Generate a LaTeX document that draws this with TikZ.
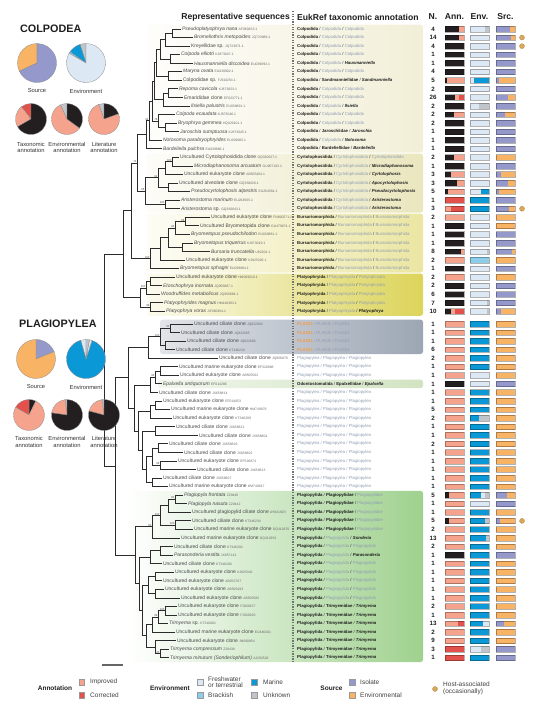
\documentclass[tikz,border=0pt]{standalone}
\usepackage{fontspec}
\setmainfont{Liberation Sans}
\usetikzlibrary{calc}
\definecolor{cblk}{HTML}{231F20}
\definecolor{cimp}{HTML}{F5A38C}
\definecolor{ccor}{HTML}{E2514C}
\definecolor{cfw}{HTML}{DCE8F4}
\definecolor{cbrk}{HTML}{8CCDEA}
\definecolor{cmar}{HTML}{0B98D6}
\definecolor{cunk}{HTML}{C0C5CC}
\definecolor{ciso}{HTML}{9498CB}
\definecolor{cenv}{HTML}{F8B365}
\definecolor{chost}{HTML}{D9A85B}
\definecolor{bcolp}{HTML}{F2EFD8}
\definecolor{bcyrt}{HTML}{EAE6BE}
\definecolor{bburs}{HTML}{EBE6A2}
\definecolor{bplat}{HTML}{DCD45A}
\definecolor{bplag}{HTML}{9CA6B4}
\definecolor{bepal}{HTML}{D2E3C2}
\definecolor{bgreen}{HTML}{9FD18E}
\definecolor{txtdark}{HTML}{1E1E1E}
\definecolor{txtlight}{HTML}{8E9CB0}
\definecolor{plorange}{HTML}{F29B45}
\definecolor{leafc}{HTML}{4A4A4A}
\definecolor{acccol}{HTML}{6A6A6A}
\definecolor{treec}{HTML}{2B2B2B}
\newcommand\Ab[1]{{\bfseries\color{txtdark}#1}}
\newcommand\Al[1]{{\color{txtlight}#1}}
\newcommand\Abi[1]{{\bfseries\itshape\color{txtdark}#1}}
\newcommand\Aor[1]{{\bfseries\color{plorange}#1}}
\newcommand\As{\ {\color{txtdark}/}\ }
\newcommand\Asl{\ {\color{txtlight}/}\ }
\newcommand\CLP{\Ab{Colpodida}\As\Al{Colpodida}\As}
\newcommand\CYR{\Ab{Cyrtolophosidida}\As\Al{Cyrtolophosidida}\As}
\newcommand\BUR{\Ab{Bursariomorphida}\As\Al{Bursariomorphida}\As\Al{Bursariomorphida}}
\newcommand\PLT{\Ab{Platyophryida}\As\Al{Platyophryida}\As}
\newcommand\PLG{\Al{Plagiopylea}\Asl\Al{Plagiopylea}\Asl\Al{Plagiopylea}}
\newcommand\PLI{\Aor{PLAGI1}\Asl\Al{PLAGI1}\Asl\Al{PLAGI1}}
\newcommand\PGP{\Ab{Plagiopylida}\As\Ab{Plagiopylidae}\As\Al{Plagiopylidae}}
\newcommand\PGA{\Ab{Plagiopylida}\As\Al{Plagiopylida}\As}
\newcommand\PGT{\Ab{Plagiopylida}\As\Ab{Trimyemidae}\As\Abi{Trimyema}}
\newcommand\accf{\fontsize{3.4}{3.4}\selectfont\color{acccol}}
\newcommand\segbar[3]{%
  \xdef\segacc{0}%
  \foreach \segc/\segf in {#3}{%
    \pgfmathsetmacro\segnew{\segacc+\segf}%
    \fill[\segc] ({#1+\segacc*19},{ya(#2)-2.8}) rectangle ({#1+\segnew*19},{ya(#2)+2.8});%
    \xdef\segacc{\segnew}%
  }%
  \draw[barline] (#1,{ya(#2)-2.8}) rectangle ({#1+19},{ya(#2)+2.8});%
}
\newcommand\rowdata[9]{%
  \node[leaf] (r#1) at (#2,{ya(#1)}) {#3\hspace{1.3pt}{\accf #4}};
  \node[annot] (tx#1) at (297,{ya(#1)}) {#5};
  \node[nnum] (nn#1) at (433,{ya(#1)}) {#6};
  \segbar{445}{#1}{#7}
  \segbar{470}{#1}{#8}
  \segbar{496}{#1}{#9}
}
\newcommand\pslice[6]{\filldraw[fill=#6, draw=black!45, line width=0.3pt] (#1,#2) -- ++(#4:#3pt) arc[start angle=#4, end angle=#5, radius=#3pt] -- cycle;}
\newcommand\edge[2]{\draw[br] (#1) |- (#2);}
\begin{document}
\begin{tikzpicture}[x=1pt,y=-1pt,
  declare function={ya(\k)=(\k<34.75)*(29+8.56*(\k-1))+(\k>34.75)*(324+8.56*(\k-35));},
  br/.style={draw=treec, line width=0.85pt},
  leaf/.style={anchor=west, inner xsep=0.9pt, inner ysep=0.3pt, font=\fontsize{5}{5}\selectfont, text=leafc},
  annot/.style={anchor=west, inner sep=0pt, font=\fontsize{4.3}{4.3}\selectfont},
  nnum/.style={font=\fontsize{6.2}{6.2}\selectfont\bfseries, text=txtdark, inner sep=0pt},
  barline/.style={draw=black, draw opacity=0.3, line width=0.45pt},
  hostdot/.style={circle, fill=chost, draw=chost!80!black, line width=0.3pt, minimum size=5pt, inner sep=0pt},
  bs/.style={font=\fontsize{2.8}{2.8}\selectfont, text=black!70, inner sep=0.3pt, anchor=south east},
  hdr/.style={font=\fontsize{8.6}{9}\selectfont\bfseries, text=txtdark, inner sep=0pt},
  ttl/.style={font=\fontsize{10.8}{11}\selectfont\bfseries, text=txtdark, anchor=west, inner sep=0pt},
  pielab/.style={font=\fontsize{5.8}{6.4}\selectfont, text=black!80, align=center, inner sep=0pt},
  leg/.style={font=\fontsize{6.5}{7}\selectfont, text=black!75, anchor=west, inner sep=0pt, align=left},
  legb/.style={font=\fontsize{6.5}{7}\selectfont\bfseries, text=txtdark, inner sep=0pt},
  lsq/.style={draw=black!40, line width=0.4pt, minimum size=5.5pt, inner sep=0pt},
  dashline/.style={draw=black!55, line width=1.2pt, dash pattern=on 1.3pt off 1.3pt}]
\useasboundingbox (0,0) rectangle (537,714);
% ---------- bands ----------
\shade[left color=bcolp!10!white, right color=bcolp, rounded corners=2.5pt] (147,24.7) rectangle (423,152.6);
\shade[left color=bcyrt!10!white, right color=bcyrt, rounded corners=2.5pt] (147,153.6) rectangle (423,212.6);
\shade[left color=bburs!10!white, right color=bburs, rounded corners=2.5pt] (147,213.6) rectangle (423,272.5);
\shade[left color=bplat!10!white, right color=bplat, rounded corners=2.5pt] (147,273.5) rectangle (423,315.8);
\shade[left color=bplag!30!white, right color=bplag, rounded corners=2.5pt] (160,319.7) rectangle (423,354.0);
\shade[left color=bepal!30!white, right color=bepal, rounded corners=2.5pt] (158,379.6) rectangle (423,388.2);
\shade[left color=white, right color=bgreen, rounded corners=2.5pt] (128,490.9) rectangle (423,662.1);
% ---------- headers ----------
\node[hdr, anchor=east] (h-rep) at (290,17) {Representative sequences};
\node[hdr, anchor=west] (h-euk) at (297,17) {EukRef taxonomic annotation};
\node[hdr] (h-n) at (433,17) {N.};
\node[hdr] (h-ann) at (454.5,17) {Ann.};
\node[hdr] (h-env) at (479.5,17) {Env.};
\node[hdr] (h-src) at (505.5,17) {Src.};
\coordinate (dl1) at (293,11);
\coordinate (dl2) at (293,663);
\draw[dashline] (dl1) -- (dl2);
% ---------- rows ----------
\rowdata{1}{181}{\textit{Pseudoplatyophrya nana}}{AF060453.1}{\CLP\Al{Colpodida}}{4}{cblk/0.75,cimp/0.25}{cfw/0.8,cunk/0.2}{ciso/0.75,cenv/0.25}
\rowdata{2}{193}{\textit{Bromeliothrix metopoides}}{JQ723988.1}{\CLP\Al{Colpodida}}{14}{cblk/0.75,cimp/0.25}{cfw/1}{ciso/0.8,cenv/0.2}
\rowdata{3}{190}{Kreyellidae sp.}{JQ723971.1}{\CLP\Al{Colpodida}}{4}{cblk/1}{cfw/1}{ciso/1}
\rowdata{4}{180}{\textit{Colpoda elliotti}}{KJ873047.1}{\CLP\Al{Colpodida}}{1}{cblk/1}{cfw/1}{ciso/1}
\rowdata{5}{193}{\textit{Hausmanniella discoidea}}{EU039893.1}{\CLP\Abi{Hausmanniella}}{1}{cblk/1}{cfw/1}{ciso/1}
\rowdata{6}{182}{\textit{Maryna ovata}}{EU039902.1}{\CLP\Al{Colpodida}}{4}{cblk/1}{cfw/1}{ciso/1}
\rowdata{7}{182}{Colpodidae sp.}{FJ610254.1}{\Ab{Colpodida}\As\Ab{Sandmanniellidae}\As\Abi{Sandmanniella}}{5}{cblk/0.12,cimp/0.88}{cfw/0.2,cmar/0.8}{ciso/0.15,cenv/0.85}
\rowdata{8}{178}{\textit{Repoma cavicola}}{KJ873053.1}{\CLP\Al{Colpodida}}{2}{cblk/1}{cfw/1}{ciso/1}
\rowdata{9}{183}{Emarididae clone}{EF023771.1}{\CLP\Al{Colpodida}}{26}{cblk/0.52,cimp/0.2,ccor/0.28}{cfw/1}{ciso/0.65,cenv/0.35}
\rowdata{10}{190}{\textit{Ilsiella palustris}}{EU039891.1}{\CLP\Abi{Ilsiella}}{2}{cblk/1}{cfw/0.45,cunk/0.55}{ciso/1}
\rowdata{11}{175}{\textit{Colpoda ecaudata}}{KJ873046.1}{\CLP\Al{Colpodida}}{2}{cblk/0.45,cimp/0.55}{cfw/1}{ciso/0.45,cenv/0.55}
\rowdata{12}{177}{\textit{Bryophrya gemmea}}{HQ020101.1}{\CLP\Al{Colpodida}}{2}{cblk/1}{cfw/1}{ciso/1}
\rowdata{13}{179}{\textit{Jaroschia sumptuosa}}{KJ873045.1}{\Ab{Colpodida}\As\Ab{Jaroschiidae}\As\Abi{Jaroschia}}{1}{cblk/1}{cfw/1}{ciso/1}
\rowdata{14}{162}{\textit{Notoxoma parabryophryides}}{EU039905.1}{\CLP\Abi{Notoxoma}}{1}{cblk/1}{cfw/1}{ciso/1}
\rowdata{15}{162}{\textit{Bardeliella pulchra}}{EU039886.1}{\Ab{Colpodida}\As\Ab{Bardeliellidae}\As\Abi{Bardeliella}}{1}{cblk/1}{cfw/1}{ciso/1}
\rowdata{16}{179}{Uncultured Cyrtolophosidida clone}{GQ330627.1}{\CYR\Al{Cyrtolophosidida}}{2}{cblk/0.45,cimp/0.55}{cfw/1}{cenv/1}
\rowdata{17}{193}{\textit{Microdiaphanosoma arcuatum}}{GU907103.1}{\CYR\Abi{Microdiaphanosoma}}{1}{cblk/1}{cfw/1}{ciso/1}
\rowdata{18}{183}{Uncultured eukaryote clone}{AB505404.1}{\CYR\Abi{Cyrtolophosis}}{3}{cblk/0.3,cimp/0.7}{cfw/1}{ciso/0.25,cenv/0.75}
\rowdata{19}{178}{Uncultured alveolate clone}{GQ330626.1}{\CYR\Abi{Apocyrtolophosis}}{3}{cblk/0.65,cimp/0.35}{cfw/1}{ciso/0.65,cenv/0.35}
\rowdata{20}{190}{\textit{Pseudocyrtolophosis alpestris}}{EU264564.1}{\CYR\Abi{Pseudocyrtolophosis}}{5}{cblk/0.15,cimp/0.85}{cfw/0.6,cmar/0.4}{ciso/0.15,cenv/0.85}
\rowdata{21}{180}{\textit{Aristerostoma marinum}}{EU264565.1}{\CYR\Abi{Aristerostoma}}{1}{ccor/1}{cmar/1}{ciso/1}
\rowdata{22}{180}{\textit{Aristerostoma} sp.}{GQ330643.1}{\CYR\Abi{Aristerostoma}}{3}{cimp/0.3,ccor/0.7}{cmar/1}{ciso/0.7,cenv/0.3}
\rowdata{23}{210}{Uncultured eukaryote clone}{FN690571.1}{\BUR}{2}{cimp/1}{cfw/1}{cenv/1}
\rowdata{24}{199}{Uncultured Bryometopida clone}{GU479874.1}{\BUR}{1}{cblk/1}{cfw/1}{cenv/1}
\rowdata{25}{190}{\textit{Bryometopus pseudochilodon}}{EU039881.1}{\BUR}{1}{cblk/1}{cfw/1}{ciso/1}
\rowdata{26}{193}{\textit{Bryometopus triquetrus}}{KJ873049.1}{\BUR}{1}{cblk/1}{cfw/1}{ciso/1}
\rowdata{27}{210}{\textit{Bursaria truncatella}}{U82204.1}{\BUR}{8}{cblk/0.85,cimp/0.15}{cfw/0.9,cunk/0.1}{ciso/0.85,cenv/0.15}
\rowdata{28}{185}{Uncultured eukaryote clone}{KJ925326.1}{\BUR}{2}{cimp/1}{cbrk/1}{cenv/1}
\rowdata{29}{179}{\textit{Bryometopus sphagni}}{EU039884.1}{\BUR}{1}{cblk/1}{cfw/1}{ciso/1}
\rowdata{30}{175}{Uncultured eukaryote clone}{HM009016.1}{\PLT\Al{Platyophryida}}{2}{cimp/1}{cfw/1}{cenv/1}
\rowdata{31}{162}{\textit{Etoschophrya inornata}}{JQ956887.1}{\PLT\Al{Platyophryida}}{2}{cblk/1}{cfw/1}{ciso/1}
\rowdata{32}{160}{\textit{Woodruffides metabolicus}}{JQ956884.1}{\PLT\Al{Platyophryida}}{6}{cblk/1}{cfw/1}{ciso/1}
\rowdata{33}{163}{\textit{Platyophryides magnus}}{HM140393.1}{\PLT\Al{Platyophryida}}{7}{cblk/1}{cfw/0.9,cunk/0.1}{ciso/1}
\rowdata{34}{165}{\textit{Platyophrya vorax}}{AF060454.1}{\PLT\Abi{Platyophrya}}{10}{cblk/0.3,cimp/0.2,ccor/0.5}{cfw/0.9,cunk/0.1}{ciso/0.25,cenv/0.75}
\rowdata{35}{193}{Uncultured ciliate clone}{JQ922663}{\PLI}{1}{cimp/1}{cmar/1}{cenv/1}
\rowdata{36}{180}{Uncultured ciliate clone}{JQ922665}{\PLI}{1}{cimp/1}{cmar/1}{cenv/1}
\rowdata{37}{186}{Uncultured ciliate clone}{JQ922666}{\PLI}{1}{cimp/1}{cmar/1}{cenv/1}
\rowdata{38}{175}{Uncultured ciliate clone}{KT346210}{\PLI}{6}{cimp/1}{cmar/1}{cenv/1}
\rowdata{39}{218}{Uncultured ciliate clone}{JQ956870}{\PLG}{2}{cimp/1}{cmar/1}{cenv/1}
\rowdata{40}{178}{Uncultured marine eukaryote clone}{EF526888}{\PLG}{1}{cimp/1}{cmar/1}{cenv/1}
\rowdata{41}{179}{Uncultured eukaryote clone}{AB505502}{\PLG}{1}{cimp/1}{cfw/1}{cenv/1}
\rowdata{42}{162}{\textit{Epalxella antiquorum}}{EF014286}{\Ab{Odontostomatida}\As\Ab{Epalxellidae}\As\Abi{Epalxella}}{1}{cblk/1}{cfw/1}{ciso/1}
\rowdata{43}{158}{Uncultured ciliate clone}{JX658814}{\PLG}{1}{cimp/1}{cmar/1}{cenv/1}
\rowdata{44}{162}{Uncultured eukaryote clone}{EF014053}{\PLG}{1}{cimp/1}{cmar/1}{cenv/1}
\rowdata{45}{170}{Uncultured marine eukaryote clone}{HM749979}{\PLG}{5}{cimp/1}{cmar/1}{cenv/1}
\rowdata{46}{172}{Uncultured eukaryote clone}{KT346209}{\PLG}{2}{cimp/1}{cmar/0.45,cunk/0.55}{cenv/1}
\rowdata{47}{175}{Uncultured ciliate clone}{JX658821}{\PLG}{1}{cimp/1}{cmar/1}{cenv/1}
\rowdata{48}{198}{Uncultured ciliate clone}{JX658804}{\PLG}{1}{cimp/1}{cmar/1}{cenv/1}
\rowdata{49}{168}{Uncultured ciliate clone}{JX658826}{\PLG}{2}{cimp/1}{cmar/1}{cenv/1}
\rowdata{50}{183}{Uncultured ciliate clone}{JX658802}{\PLG}{1}{cimp/1}{cmar/1}{cenv/1}
\rowdata{51}{177}{Uncultured eukaryote clone}{EF526874}{\PLG}{1}{cimp/1}{cmar/1}{cenv/1}
\rowdata{52}{196}{Uncultured ciliate clone}{JX658813}{\PLG}{1}{cimp/1}{cmar/1}{cenv/1}
\rowdata{53}{162}{Uncultured ciliate clone}{JX658807}{\PLG}{1}{cimp/1}{cmar/1}{cenv/1}
\rowdata{54}{168}{Uncultured marine eukaryote clone}{HM749917}{\PLG}{1}{cimp/1}{cmar/1}{cenv/1}
\rowdata{55}{183}{\textit{Plagiopyla frontata}}{Z29440}{\PGP}{5}{cblk/0.2,cimp/0.8}{cmar/0.6,cfw/0.2,cunk/0.2}{ciso/0.6,cenv/0.4}
\rowdata{56}{187}{\textit{Plagiopyla nasuta}}{Z29442}{\PGP}{1}{cimp/1}{cfw/1}{ciso/1}
\rowdata{57}{191}{Uncultured plagiopylid ciliate clone}{AY821923}{\PGP}{1}{cimp/1}{cmar/1}{cenv/1}
\rowdata{58}{191}{Uncultured ciliate clone}{KT346234}{\PGP}{5}{cblk/0.2,cimp/0.8}{cmar/0.8,cunk/0.2}{ciso/0.2,cenv/0.8}
\rowdata{59}{193}{Uncultured marine eukaryote clone}{DQ310370}{\PGP}{2}{cimp/1}{cmar/1}{cenv/1}
\rowdata{60}{180}{Uncultured marine eukaryote clone}{DQ310253}{\PGA\Abi{Sonderia}}{13}{cimp/1}{cmar/0.85,cunk/0.15}{cenv/1}
\rowdata{61}{173}{Uncultured ciliate clone}{KT346204}{\PGA\Al{Plagiopylida}}{2}{cimp/1}{cmar/1}{cenv/1}
\rowdata{62}{173}{\textit{Parasonderia vestita}}{JX857141}{\PGA\Abi{Parasonderia}}{1}{cblk/1}{cmar/1}{ciso/1}
\rowdata{63}{162}{Uncultured ciliate clone}{KT346200}{\PGA\Al{Plagiopylida}}{1}{cimp/1}{cmar/1}{cenv/1}
\rowdata{64}{174}{Uncultured eukaryote clone}{KJ925342}{\PGA\Al{Plagiopylida}}{1}{cimp/1}{cmar/1}{cenv/1}
\rowdata{65}{162}{Uncultured eukaryote clone}{AB252767}{\PGA\Al{Plagiopylida}}{1}{cimp/1}{cmar/1}{cenv/1}
\rowdata{66}{164}{Uncultured eukaryote clone}{AB505493}{\PGA\Al{Plagiopylida}}{1}{cimp/1}{cmar/1}{cenv/1}
\rowdata{67}{180}{Uncultured eukaryote clone}{AB505505}{\PGA\Al{Plagiopylida}}{1}{cimp/1}{cmar/1}{cenv/1}
\rowdata{68}{177}{Uncultured eukaryote clone}{FJ009157}{\PGT}{2}{cimp/1}{cmar/1}{cenv/1}
\rowdata{69}{177}{Uncultured eukaryote clone}{FJ009160}{\PGT}{1}{cimp/1}{cmar/1}{cenv/1}
\rowdata{70}{168}{\textit{Trimyema} sp.}{KT310081}{\PGT}{13}{cimp/0.7,ccor/0.3}{cmar/0.7,cfw/0.3}{ciso/0.4,cenv/0.6}
\rowdata{71}{175}{Uncultured marine eukaryote clone}{EU446401}{\PGT}{2}{cimp/1}{cmar/1}{cenv/1}
\rowdata{72}{176}{Uncultured eukaryote clone}{JN090854}{\PGT}{9}{cimp/1}{cmar/1}{cenv/1}
\rowdata{73}{169}{\textit{Trimyema compressum}}{Z29438}{\PGT}{3}{ccor/1}{cfw/0.6,cunk/0.4}{ciso/1}
\rowdata{74}{169}{\textit{Trimyema minutum (Sonderiophilum)}}{AJ292526}{\PGT}{1}{ccor/1}{cmar/1}{ciso/1}
% host dots
\node[hostdot] (hd1) at (522,{ya(2)}) {};
\node[hostdot] (hd2) at (522,{ya(3)}) {};
\node[hostdot] (hd3) at (522,{ya(22)}) {};
\node[hostdot] (hd4) at (522,{ya(58)}) {};
% ---------- tree: internal nodes ----------
\coordinate (a1) at (172,{ya(1.5)});
\coordinate (a2) at (165,{ya(2.25)});
\coordinate (a3) at (170,{ya(4.5)});
\coordinate (a4) at (160,{ya(3.375)});
\coordinate (a5) at (168,{ya(6.5)});
\coordinate (a6) at (156,{ya(4.9375)});
\coordinate (a7) at (168,{ya(8.5)});
\coordinate (a8) at (163,{ya(9.25)});
\coordinate (a9) at (154,{ya(7.09375)});
\coordinate (a10) at (165,{ya(12.5)});
\coordinate (a11) at (158,{ya(11.75)});
\coordinate (a12) at (152,{ya(9.421875)});
\coordinate (a13) at (149,{ya(11.7109)});
\coordinate (a14) at (146,{ya(13.3555)});
\coordinate (b1) at (172,{ya(16.5)});
\coordinate (b2) at (165,{ya(17.25)});
\coordinate (b3) at (168,{ya(19.5)});
\coordinate (b4) at (158,{ya(18.375)});
\coordinate (b5) at (165,{ya(21.5)});
\coordinate (b6) at (145,{ya(19.9375)});
\coordinate (c1) at (185,{ya(23.5)});
\coordinate (c2) at (175,{ya(24.25)});
\coordinate (c3) at (182,{ya(26.5)});
\coordinate (c4) at (168,{ya(25.375)});
\coordinate (c5) at (160,{ya(26.6875)});
\coordinate (c6) at (150,{ya(27.84375)});
\coordinate (d1) at (150,{ya(30.5)});
\coordinate (d2) at (146,{ya(31.25)});
\coordinate (d3) at (150,{ya(33.5)});
\coordinate (d4) at (140,{ya(32.375)});
\coordinate (e1) at (137,{ya(16.6465)});
\coordinate (e2) at (131,{ya(22.245)});
\coordinate (e3) at (123,{ya(27.31)});
\coordinate (f1) at (170,{ya(35.5)});
\coordinate (f2) at (165,{ya(37.5)});
\coordinate (f3) at (160,{ya(36.5)});
\coordinate (f4) at (148,{ya(37.75)});
\coordinate (g1) at (160,{ya(40.5)});
\coordinate (g2) at (155,{ya(41.25)});
\coordinate (g3) at (150,{ya(42.125)});
\coordinate (g4) at (155,{ya(44.5)});
\coordinate (g5) at (150,{ya(45.25)});
\coordinate (g6) at (155,{ya(47.5)});
\coordinate (g7) at (158,{ya(49.5)});
\coordinate (g8) at (160,{ya(51.5)});
\coordinate (g9) at (152,{ya(50.5)});
\coordinate (g10) at (152,{ya(53.5)});
\coordinate (g11) at (146,{ya(52)});
\coordinate (g12) at (142,{ya(49.75)});
\coordinate (g13) at (138,{ya(47.5)});
\coordinate (g14) at (134,{ya(44.8125)});
\coordinate (g15) at (128,{ya(41.28)});
\coordinate (h1) at (175,{ya(55.5)});
\coordinate (h2) at (168,{ya(56.25)});
\coordinate (h3) at (175,{ya(58.5)});
\coordinate (h4) at (160,{ya(57.375)});
\coordinate (h5) at (152,{ya(58.6875)});
\coordinate (h6) at (160,{ya(61.5)});
\coordinate (h7) at (150,{ya(62.25)});
\coordinate (h8) at (155,{ya(64.5)});
\coordinate (h9) at (155,{ya(66.5)});
\coordinate (h10) at (148,{ya(65.5)});
\coordinate (h11) at (165,{ya(68.5)});
\coordinate (h12) at (158,{ya(69.25)});
\coordinate (h13) at (152,{ya(70.125)});
\coordinate (h14) at (160,{ya(73.5)});
\coordinate (h15) at (155,{ya(72.75)});
\coordinate (h16) at (146,{ya(71.4375)});
\coordinate (h17) at (142,{ya(68.47)});
\coordinate (h18) at (139,{ya(65.36)});
\coordinate (h19) at (135,{ya(62.02)});
\coordinate (p) at (115,{ya(51.65)});
\coordinate (rootx) at (104,0);
\path (e3) -- (p) coordinate[pos=0.5] (rootm);
\coordinate (root) at (rootm -| rootx);
% ---------- tree: edges ----------
\edge{a1}{r1.west}\edge{a1}{r2.west}
\edge{a2}{a1}\edge{a2}{r3.west}
\edge{a3}{r4.west}\edge{a3}{r5.west}
\edge{a4}{a2}\edge{a4}{a3}
\edge{a5}{r6.west}\edge{a5}{r7.west}
\edge{a6}{a4}\edge{a6}{a5}
\edge{a7}{r8.west}\edge{a7}{r9.west}
\edge{a8}{a7}\edge{a8}{r10.west}
\edge{a9}{a6}\edge{a9}{a8}
\edge{a10}{r12.west}\edge{a10}{r13.west}
\edge{a11}{r11.west}\edge{a11}{a10}
\edge{a12}{a9}\edge{a12}{a11}
\edge{a13}{a12}\edge{a13}{r14.west}
\edge{a14}{a13}\edge{a14}{r15.west}
\edge{b1}{r16.west}\edge{b1}{r17.west}
\edge{b2}{b1}\edge{b2}{r18.west}
\edge{b3}{r19.west}\edge{b3}{r20.west}
\edge{b4}{b2}\edge{b4}{b3}
\edge{b5}{r21.west}\edge{b5}{r22.west}
\edge{b6}{b4}\edge{b6}{b5}
\edge{c1}{r23.west}\edge{c1}{r24.west}
\edge{c2}{c1}\edge{c2}{r25.west}
\edge{c3}{r26.west}\edge{c3}{r27.west}
\edge{c4}{c2}\edge{c4}{c3}
\edge{c5}{c4}\edge{c5}{r28.west}
\edge{c6}{c5}\edge{c6}{r29.west}
\edge{d1}{r30.west}\edge{d1}{r31.west}
\edge{d2}{d1}\edge{d2}{r32.west}
\edge{d3}{r33.west}\edge{d3}{r34.west}
\edge{d4}{d2}\edge{d4}{d3}
\edge{e1}{a14}\edge{e1}{b6}
\edge{e2}{e1}\edge{e2}{c6}
\edge{e3}{e2}\edge{e3}{d4}
\edge{f1}{r35.west}\edge{f1}{r36.west}
\edge{f2}{r37.west}\edge{f2}{r38.west}
\edge{f3}{f1}\edge{f3}{f2}
\edge{f4}{f3}\edge{f4}{r39.west}
\edge{g1}{r40.west}\edge{g1}{r41.west}
\edge{g2}{g1}\edge{g2}{r42.west}
\edge{g3}{g2}\edge{g3}{r43.west}
\edge{g4}{r44.west}\edge{g4}{r45.west}
\edge{g5}{g4}\edge{g5}{r46.west}
\edge{g6}{r47.west}\edge{g6}{r48.west}
\edge{g7}{r49.west}\edge{g7}{r50.west}
\edge{g8}{r51.west}\edge{g8}{r52.west}
\edge{g9}{g7}\edge{g9}{g8}
\edge{g10}{r53.west}\edge{g10}{r54.west}
\edge{g11}{g9}\edge{g11}{g10}
\edge{g12}{g6}\edge{g12}{g11}
\edge{g13}{g5}\edge{g13}{g12}
\edge{g14}{g3}\edge{g14}{g13}
\edge{g15}{f4}\edge{g15}{g14}
\edge{h1}{r55.west}\edge{h1}{r56.west}
\edge{h2}{h1}\edge{h2}{r57.west}
\edge{h3}{r58.west}\edge{h3}{r59.west}
\edge{h4}{h2}\edge{h4}{h3}
\edge{h5}{h4}\edge{h5}{r60.west}
\edge{h6}{r61.west}\edge{h6}{r62.west}
\edge{h7}{h6}\edge{h7}{r63.west}
\edge{h8}{r64.west}\edge{h8}{r65.west}
\edge{h9}{r66.west}\edge{h9}{r67.west}
\edge{h10}{h8}\edge{h10}{h9}
\edge{h11}{r68.west}\edge{h11}{r69.west}
\edge{h12}{h11}\edge{h12}{r70.west}
\edge{h13}{h12}\edge{h13}{r71.west}
\edge{h14}{r73.west}\edge{h14}{r74.west}
\edge{h15}{r72.west}\edge{h15}{h14}
\edge{h16}{h13}\edge{h16}{h15}
\edge{h17}{h10}\edge{h17}{h16}
\edge{h18}{h7}\edge{h18}{h17}
\edge{h19}{h5}\edge{h19}{h18}
\edge{p}{g15}\edge{p}{h19}
\edge{root}{e3}\edge{root}{p}
% bootstrap values
\node[bs] (bs1) at (a13) {94};
\node[bs] (bs2) at (a11) {78};
\node[bs] (bs3) at (b1) {100};
\node[bs] (bs4) at (b4) {92};
\node[bs] (bs5) at (b5) {100};
\node[bs] (bs6) at (b6) {86};
\node[bs] (bs7) at (e1) {74};
\node[bs] (bs8) at (c1) {66};
\node[bs] (bs9) at (c2) {84};
\node[bs] (bs10) at (c6) {100};
\node[bs] (bs11) at (d2) {100};
\node[bs] (bs12) at (d3) {99};
\node[bs] (bs13) at (f1) {90};
\node[bs] (bs14) at (f3) {100};
\node[bs] (bs15) at (g2) {95};
\node[bs] (bs16) at (g8) {98};
\node[bs] (bs17) at (h1) {81};
\node[bs] (bs18) at (h3) {100};
\node[bs] (bs19) at (h4) {100};
\node[bs] (bs20) at (h5) {82};
\node[bs] (bs21) at (h11) {100};
\node[bs] (bs22) at (h12) {99};
\node[bs] (bs23) at (h14) {100};
% scale bar
\coordinate (sb1) at (102,665);
\coordinate (sb2) at (123,665);
\draw[line width=1.5pt, black!60] (sb1) -- (sb2);
% ---------- left panel: COLPODEA ----------
\node[ttl] (tcol) at (20,29) {COLPODEA};
\pslice{37}{63}{19.5}{90}{205}{cenv}
\pslice{37}{63}{19.5}{205}{450}{ciso}
\pslice{86}{63}{19.5}{90}{108}{cunk}
\pslice{86}{63}{19.5}{108}{145}{cmar}
\pslice{86}{63}{19.5}{145}{150}{cbrk}
\pslice{86}{63}{19.5}{150}{450}{cfw}
\pslice{31}{119}{15.5}{90}{128}{ccor}
\pslice{31}{119}{15.5}{128}{210}{cimp}
\pslice{31}{119}{15.5}{210}{450}{cblk}
\pslice{67}{119}{15.5}{90}{115}{cunk}
\pslice{67}{119}{15.5}{115}{324}{cimp}
\pslice{67}{119}{15.5}{324}{450}{cblk}
\pslice{104}{119}{15.5}{90}{110}{cunk}
\pslice{104}{119}{15.5}{110}{380}{cimp}
\pslice{104}{119}{15.5}{380}{450}{cblk}
\node[pielab] (pcs) at (37,91) {Source};
\node[pielab] (pce) at (86,91) {Environment};
\node[pielab] (pct) at (31,147.5) {Taxonomic\\annotation};
\node[pielab] (pcv) at (67,147.5) {Environmental\\annotation};
\node[pielab] (pcl) at (104,147.5) {Literature\\annotation};
% ---------- left panel: PLAGIOPYLEA ----------
\node[ttl] (tpla) at (19,324) {PLAGIOPYLEA};
\pslice{36}{359}{19.5}{22}{90}{ciso}
\pslice{36}{359}{19.5}{90}{382}{cenv}
\pslice{86}{359}{19.5}{90}{106}{cfw}
\pslice{86}{359}{19.5}{106}{432}{cmar}
\pslice{86}{359}{19.5}{72}{80}{cfw}
\pslice{86}{359}{19.5}{80}{90}{cunk}
\pslice{29}{415}{15.5}{64}{90}{cblk}
\pslice{29}{415}{15.5}{90}{150}{ccor}
\pslice{29}{415}{15.5}{150}{424}{cimp}
\pslice{67}{415}{15.5}{90}{97}{cunk}
\pslice{67}{415}{15.5}{97}{172}{cimp}
\pslice{67}{415}{15.5}{172}{450}{cblk}
\pslice{104}{415}{15.5}{90}{98}{cunk}
\pslice{104}{415}{15.5}{98}{165}{cimp}
\pslice{104}{415}{15.5}{165}{450}{cblk}
\node[pielab] (pps) at (36,387) {Source};
\node[pielab] (ppe) at (86,387) {Environment};
\node[pielab] (ppt) at (29,442) {Taxonomic\\annotation};
\node[pielab] (ppv) at (67,442) {Environmental\\annotation};
\node[pielab] (ppl) at (104,442) {Literature\\annotation};
% ---------- legend ----------
\node[legb] (lgA) at (55,688.5) {Annotation};
\node[lsq, fill=cimp] (sq1) at (81.5,682) {};
\node[lsq, fill=ccor] (sq2) at (81.5,695) {};
\node[leg] (lt1) at (90,682) {Improved};
\node[leg] (lt2) at (90,695) {Corrected};
\node[legb] (lgE) at (170,688.5) {Environment};
\node[lsq, fill=cfw] (sq3) at (200,682) {};
\node[lsq, fill=cbrk] (sq4) at (200,695) {};
\node[leg, font=\fontsize{6.5}{6.6}\selectfont] (lt3) at (208,682) {Freshwater\\or terrestrial};
\node[leg] (lt4) at (208,695) {Brackish};
\node[lsq, fill=cmar] (sq5) at (254,682) {};
\node[lsq, fill=cunk] (sq6) at (254,695) {};
\node[leg] (lt5) at (263,682) {Marine};
\node[leg] (lt6) at (263,695) {Unknown};
\node[legb] (lgS) at (331.5,688.5) {Source};
\node[lsq, fill=ciso] (sq7) at (352,682) {};
\node[lsq, fill=cenv] (sq8) at (352,695) {};
\node[leg] (lt7) at (360,682) {Isolate};
\node[leg] (lt8) at (360,695) {Environmental};
\node[hostdot] (lgdot) at (435,689) {};
\node[leg, font=\fontsize{6.5}{6.6}\selectfont] (lt9) at (443,688.5) {Host-associated\\(occasionally)};
\end{tikzpicture}
\end{document}
